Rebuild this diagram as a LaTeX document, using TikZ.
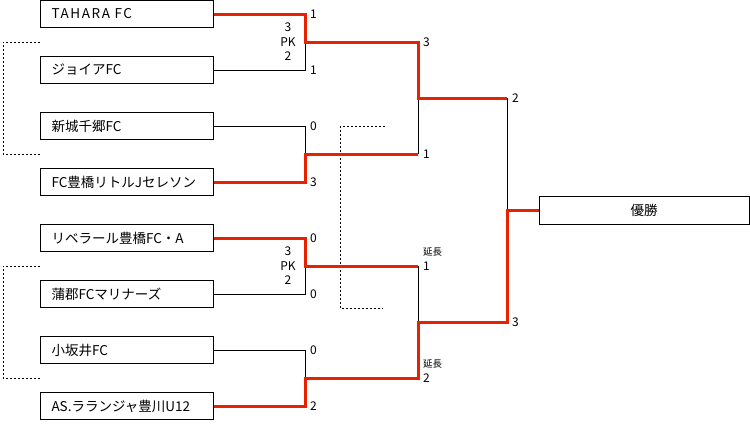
\documentclass[tikz,border=0pt]{standalone}
\usepackage{fontspec}
\setmainfont{Noto Sans CJK JP}
\usepackage{tikz}
\usetikzlibrary{positioning}
\definecolor{winred}{RGB}{230,34,0}

\begin{document}
\begin{tikzpicture}[x=1pt,y=-1pt,
  team/.style={draw, line width=1pt, anchor=west, minimum height=27pt, text width=151pt,
    inner xsep=11pt, inner ysep=0pt, align=left, font=\fontsize{13.5}{16}\selectfont},
  lose/.style={line width=1pt},
  win/.style={line width=3pt, draw=winred},
  score/.style={anchor=west, inner sep=0pt, xshift=5pt, font=\fontsize{12}{14}\selectfont},
  pk/.style={align=center, inner sep=0pt, xshift=-17pt, font=\fontsize{12}{14.5}\selectfont},
  ext/.style={anchor=west, inner sep=0pt, xshift=5pt, yshift=14pt, font=\fontsize{9.5}{11}\selectfont},
  bye/.style={line width=1pt, dash pattern=on 2pt off 2pt}]
  \useasboundingbox (0,0) rectangle (750,440);
  % teams
  \foreach \name [count=\i] in {{\addfontfeature{LetterSpace=12}TAHARA FC}, ジョイアFC, 新城千郷FC,
      FC豊橋リトルJセレソン, リベラール豊橋FC・A, 蒲郡FCマリナーズ, 小坂井FC, AS.ラランジャ豊川U12}
    \node[team] (t\i) at (40,\i*56-42) {\name};
  \node[draw, line width=1pt, minimum width=210pt, minimum height=28pt, inner sep=0pt,
    font=\fontsize{13.5}{16}\selectfont] (champ) at (644,210) {優勝};
  % junctions
  \coordinate (m1) at (305,42);
  \coordinate (m2) at (305,154);
  \coordinate (m3) at (305,266);
  \coordinate (m4) at (305,378);
  \coordinate (s1) at (418,98);
  \coordinate (s2) at (418,322);
  \coordinate (f) at (507,210);
  % byes
  \draw[bye] (t1.west |- m1) -- ++(-37,0) |- (t3.west |- m2);
  \draw[bye] (t5.west |- m3) -- ++(-37,0) |- (t7.west |- m4);
  \draw[bye] (385,126.5) -| (340,308) -- (383,308);
  % bracket
  \draw[lose] (t2.east) -| (m1);
  \draw[lose] (t3.east) -| (m2);
  \draw[lose] (m2 -| s1) -- (s1);
  \draw[lose] (t6.east) -| (m3);
  \draw[lose] (t7.east) -| (m4);
  \draw[lose] (m3 -| s2) -- (s2);
  \draw[lose] (s1 -| f) -- (f);
  \draw[win] (t1.east) -| (m1) -| (s1) -- (s1 -| f);
  \draw[win] (t4.east) -| (m2) -- (m2 -| s1);
  \draw[win] (t5.east) -| (m3) -- (m3 -| s2);
  \draw[win] (t8.east) -| (m4) -| (s2) -| (f) -- (champ.west);
  % scores
  \node[score] at (m1 |- t1) {1};
  \node[score] at (m1 |- t2) {1};
  \node[pk] at (m1) {3\\PK\\2};
  \node[score] at (m2 |- t3) {0};
  \node[score] at (m2 |- t4) {3};
  \node[score] at (m3 |- t5) {0};
  \node[pk] at (m3) {3\\PK\\2};
  \node[score] at (m3 |- t6) {0};
  \node[score] at (m4 |- t7) {0};
  \node[score] at (m4 |- t8) {2};
  \node[score] at (s1 |- m1) {3};
  \node[score] at (s1 |- m2) {1};
  \node[score] at (s2 |- m3) {1};
  \node[ext] at (s2 |- m3) {延長};
  \node[score] at (s2 |- m4) {2};
  \node[ext] at (s2 |- m4) {延長};
  \node[score] at (f |- s1) {2};
  \node[score] at (f |- s2) {3};
\end{tikzpicture}
\end{document}
